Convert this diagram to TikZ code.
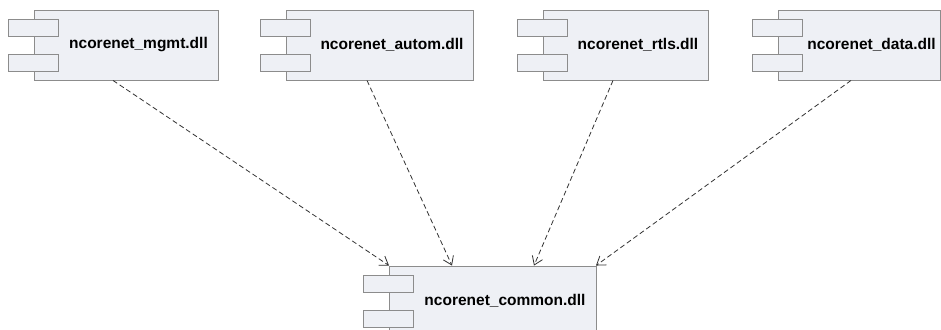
\documentclass[tikz,border=0pt]{standalone}
\usepackage{fontspec}
\setmainfont{Liberation Sans}
\usetikzlibrary{arrows.meta}

\definecolor{compfill}{HTML}{EEF0F5}
\definecolor{compline}{HTML}{8C8C8C}
\definecolor{depline}{HTML}{333333}

\tikzset{
    comp/.style={draw=compline, fill=compfill, line width=0.9pt, rectangle, minimum height=70pt, inner sep=0pt},
    comptab/.style={draw=compline, fill=compfill, line width=0.9pt, rectangle, minimum width=50pt, minimum height=17pt, inner sep=0pt},
    comptext/.style={xshift=12.5pt, font=\fontsize{15.5}{18}\selectfont\bfseries, inner sep=0pt},
    dep/.style={draw=depline, line width=0.8pt, dash pattern=on 5pt off 3pt, -{Straight Barb[length=8pt,width=11pt]}}
}

\begin{document}
\begin{tikzpicture}[x=1pt, y=-1pt]

        \clip (0, 0) rectangle (941, 329);
        \fill[white] (0, 0) rectangle (941, 329);

        \foreach \n/\x/\w in {mgmt/126/184, autom/379.5/187, rtls/625.5/165, data/859/162}
            {
                \node[name=\n, comp, minimum width=\w pt, label={[comptext]center:ncorenet\_\n.dll}] at (\x, 45) {};
                \node[name=\n_a, comptab] at ([yshift=17.5pt]\n.west) {};
                \node[name=\n_b, comptab] at ([yshift=-17.5pt]\n.west) {};
            }
        \node[name=common, comp, minimum width=207pt, label={[comptext]center:ncorenet\_common.dll}] at (492.5, 301) {};
        \node[name=common_a, comptab] at ([yshift=17.5pt]common.west) {};
        \node[name=common_b, comptab] at ([yshift=-17.5pt]common.west) {};

        \foreach \n/\s/\e in {mgmt/-13/-103.5, autom/-12.5/-40.5, rtls/-12.5/41.5, data/-8/103.5}
            \draw[dep] ([xshift=\s pt]\n.south) -- ([xshift=\e pt]common.north);
    \end{tikzpicture}
\end{document}
